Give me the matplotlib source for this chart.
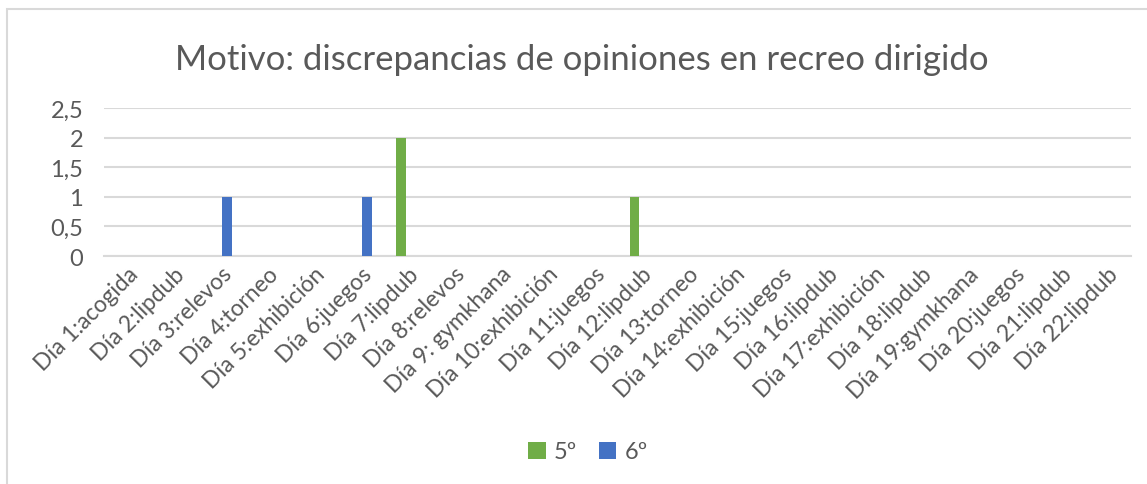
import matplotlib.pyplot as plt
import matplotlib.patches as mpatches
import numpy as np

# chart data
dias = ["Día 1:acogida", "Día 2:lipdub", "Día 3:relevos", "Día 4:torneo",
        "Día 5:exhibición", "Día 6:juegos", "Día 7:lipdub", "Día 8:relevos",
        "Día 9: gymkhana", "Día 10:exhibición", "Día 11:juegos", "Día 12:lipdub",
        "Día 13:torneo", "Día 14:exhibición", "Día 15:juegos", "Día 16:lipdub",
        "Día 17:exhibición", "Día 18:lipdub", "Día 19:gymkhana", "Día 20:juegos",
        "Día 21:lipdub", "Día 22:lipdub"]
quinto = [0, 0, 0, 0, 0, 0, 2, 0, 0, 0, 0, 1, 0, 0, 0, 0, 0, 0, 0, 0, 0, 0]
sexto = [0, 0, 1, 0, 0, 1, 0, 0, 0, 0, 0, 0, 0, 0, 0, 0, 0, 0, 0, 0, 0, 0]
yticks = [0, 0.5, 1, 1.5, 2, 2.5]
ytick_labels = ["0", "0,5", "1", "1,5", "2", "2,5"]

plt.rcParams['font.family'] = ['Lato', 'DejaVu Sans']
txt = '#595959'
grid = '#d9d9d9'

W, H = 1147, 485
fig = plt.figure(figsize=(W/100, H/100), dpi=100)
fig.patch.set_facecolor('white')

# chart border (only left and top visible in the crop)
fig.patches.append(mpatches.Rectangle((7/W, -0.1), 1.2, 1 - 10/H + 0.1,
                                      transform=fig.transFigure, fill=False,
                                      edgecolor=grid, lw=1.5))

ax = fig.add_axes([104/W, (H-257)/H, (1131-104)/W, (257-109)/H])
x = np.arange(len(dias))
w = 0.21
off = 0.137
ax.bar(x - off, quinto, w, color='#70AD47', label='5º', zorder=3)
ax.bar(x + off, sexto, w, color='#4472C4', label='6º', zorder=3)

ax.set_xlim(-0.5, len(dias) - 0.5)
ax.set_ylim(0, 2.5)
ax.set_yticks(yticks)
ax.set_yticklabels(ytick_labels)
ax.yaxis.grid(True, color=grid, lw=1.5, zorder=0)
ax.set_axisbelow(True)
for s in ['top', 'right', 'left']:
    ax.spines[s].set_visible(False)
ax.spines['bottom'].set_color(grid)
ax.spines['bottom'].set_linewidth(1.5)
ax.tick_params(axis='y', length=0, pad=15, labelsize=17, labelcolor=txt)
ax.tick_params(axis='x', length=0, pad=5, labelsize=16.5, labelcolor=txt)
ax.set_xticks(x)
ax.set_xticklabels(dias, rotation=45, ha='right', rotation_mode='anchor')

fig.text(582/W, 1 - 60/H, "Motivo: discrepancias de opiniones en recreo dirigido",
         ha='center', va='center', fontsize=25, color=txt)

fig.legend(loc='center', bbox_to_anchor=(588/W, 1 - 453/H), ncol=2, frameon=False,
           fontsize=17, labelcolor=txt, handlelength=0.75, handleheight=0.75,
           handletextpad=0.35, columnspacing=0.9)

fig.savefig('out.png', dpi=100, facecolor='white')
